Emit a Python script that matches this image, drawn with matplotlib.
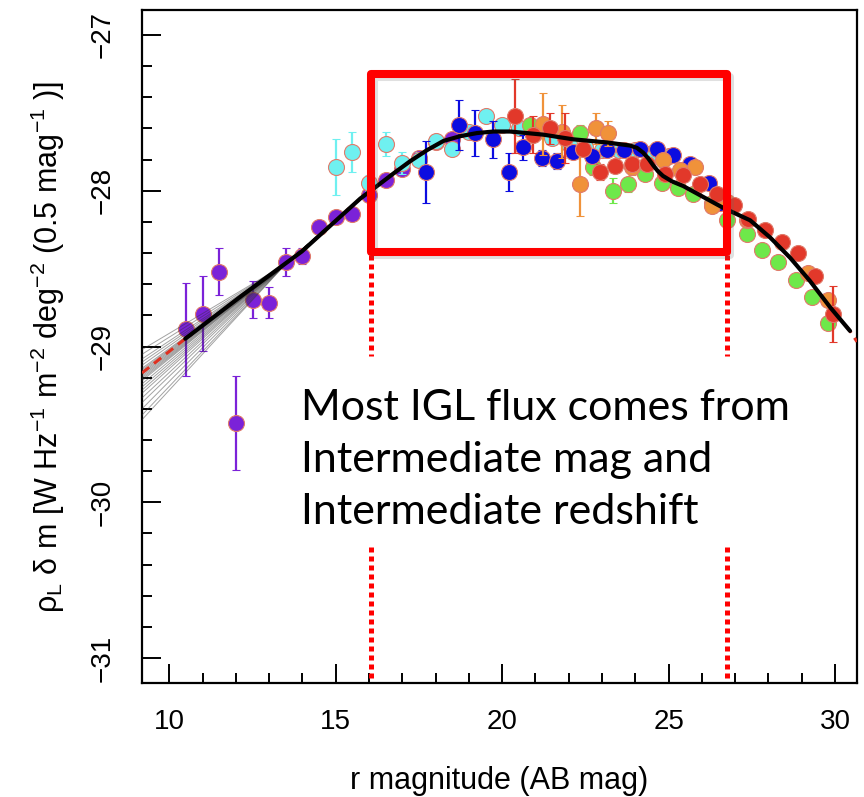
import matplotlib
matplotlib.use('Agg')
import matplotlib.pyplot as plt
import matplotlib.patheffects as pe
from matplotlib.patches import Rectangle
from matplotlib.ticker import MultipleLocator

plt.rcParams['font.family'] = ['Liberation Sans', 'DejaVu Sans']
plt.rcParams['mathtext.fontset'] = 'custom'
plt.rcParams['mathtext.rm'] = 'Liberation Sans'
plt.rcParams['mathtext.it'] = 'Liberation Sans:italic'

# --- binned luminosity density, one list per sample ---
purple_mag = [10.5, 11.0, 11.5, 12.0, 12.5, 13.0, 13.5, 14.0, 14.5, 15.0, 15.5, 16.0, 16.5, 17.0, 17.5, 18.0, 18.5]
purple_rho = [-28.89, -28.79, -28.52, -29.49, -28.70, -28.72, -28.46, -28.42, -28.23, -28.17, -28.15, -28.03, -27.93, -27.86, -27.79, -27.69, -27.67]
purple_err = [0.30, 0.24, 0.15, 0.30, 0.12, 0.10, 0.09, 0.05, 0.03, 0.03, 0.03, 0.03, 0.03, 0.03, 0.03, 0.03, 0.03]

cyan_mag = [15.0, 15.5, 16.0, 16.5, 17.0, 17.5, 18.0, 18.5, 19.0, 19.5, 20.0, 20.5, 21.0, 21.5, 22.0, 22.5, 23.0, 23.5, 24.0, 24.5, 25.0]
cyan_rho = [-27.85, -27.75, -27.95, -27.70, -27.82, -27.80, -27.68, -27.73, -27.62, -27.52, -27.58, -27.60, -27.63, -27.66, -27.70, -27.72, -27.74, -27.74, -27.74, -27.76, -27.78]
cyan_err = [0.18, 0.13, 0.05, 0.08, 0.07, 0.05, 0.04, 0.04, 0.04, 0.04, 0.04, 0.04, 0.04, 0.04, 0.03, 0.03, 0.03, 0.03, 0.03, 0.03, 0.03]

blue_mag = [17.71, 18.71, 19.19, 19.71, 20.21, 20.64, 21.19, 21.64, 22.14, 22.69, 23.14, 23.65, 24.14, 24.65, 25.14, 25.65, 26.20, 26.55]
blue_rho = [-27.88, -27.58, -27.63, -27.67, -27.88, -27.72, -27.79, -27.81, -27.75, -27.78, -27.74, -27.74, -27.73, -27.73, -27.77, -27.83, -27.95, -28.08]
blue_err = [0.20, 0.16, 0.15, 0.12, 0.12, 0.08, 0.05, 0.05, 0.04, 0.04, 0.03, 0.03, 0.03, 0.03, 0.03, 0.03, 0.03, 0.03]

green_mag = [20.84, 22.34, 22.74, 23.34, 23.79, 24.29, 24.79, 25.29, 25.74, 26.30, 26.75, 27.35, 27.80, 28.30, 28.83, 29.30, 29.80]
green_rho = [-27.58, -27.63, -27.85, -28.00, -27.96, -27.89, -27.95, -27.98, -28.02, -28.08, -28.19, -28.28, -28.38, -28.46, -28.57, -28.68, -28.85]
green_err = [0.04, 0.05, 0.05, 0.08, 0.05, 0.04, 0.03, 0.03, 0.03, 0.03, 0.03, 0.03, 0.03, 0.03, 0.03, 0.03, 0.03]

orange_mag = [21.23, 21.79, 22.34, 22.82, 23.19, 23.89, 24.83, 25.35, 25.80, 26.30, 26.75, 27.35, 29.20, 29.80]
orange_rho = [-27.57, -27.62, -27.96, -27.60, -27.63, -27.85, -27.80, -27.87, -27.85, -28.10, -28.07, -28.19, -28.53, -28.70]
orange_err = [0.20, 0.17, 0.20, 0.10, 0.08, 0.05, 0.04, 0.03, 0.03, 0.03, 0.03, 0.03, 0.03, 0.04]

red_mag = [20.39, 20.93, 21.44, 21.89, 22.44, 22.94, 23.38, 23.89, 24.34, 24.89, 25.44, 25.94, 26.45, 26.95, 27.40, 27.90, 28.40, 28.90, 29.40, 29.95]
red_rho = [-27.52, -27.64, -27.60, -27.66, -27.73, -27.88, -27.84, -27.83, -27.83, -27.89, -27.90, -27.96, -28.02, -28.09, -28.18, -28.25, -28.33, -28.40, -28.55, -28.79]
red_err = [0.24, 0.12, 0.10, 0.16, 0.05, 0.05, 0.04, 0.04, 0.03, 0.03, 0.03, 0.03, 0.03, 0.03, 0.03, 0.03, 0.03, 0.03, 0.03, 0.18]

# best-fit model curve
model_mag = [9.18, 10.48, 12.20, 13.98, 15.74, 16.24, 16.73, 17.24, 17.74, 18.24, 18.74, 19.24, 19.74, 20.24,
             20.74, 21.23, 22.13, 23.14, 23.84, 24.05, 24.23, 24.38, 24.53, 24.68, 24.83, 25.10, 25.44, 26.04,
             26.64, 27.45, 28.05, 28.65, 29.25, 29.86, 30.45, 30.66]
model_rho = [-29.17, -28.95, -28.67, -28.39, -28.05, -27.97, -27.89, -27.81, -27.74, -27.68, -27.65, -27.63, -27.62, -27.62,
             -27.63, -27.64, -27.67, -27.69, -27.71, -27.725, -27.755, -27.79, -27.835, -27.875, -27.905, -27.94, -27.97, -28.04,
             -28.11, -28.19, -28.30, -28.43, -28.58, -28.75, -28.90, -28.97]

# faint-end extrapolations of the model realisations
fan_left_mag = 9.18
fan_left_rho = [-29.02, -29.05, -29.08, -29.10, -29.12, -29.14, -29.15, -29.16, -29.17, -29.18, -29.19, -29.20,
                -29.21, -29.22, -29.24, -29.26, -29.28, -29.30, -29.33, -29.36, -29.40, -29.44, -29.47]
fan_pivot = (13.5, -28.47)

# highlighted magnitude range
box_mag = (16.07, 26.76)
box_rho = (-27.254, -28.393)

series = [
    (purple_mag, purple_rho, purple_err, '#7b22d8', 3),
    (cyan_mag, cyan_rho, cyan_err, '#6ff0f0', 4),
    (green_mag, green_rho, green_err, '#6ee84a', 5),
    (blue_mag, blue_rho, blue_err, '#0c0ce0', 6),
    (orange_mag, orange_rho, orange_err, '#f0923a', 7),
    (red_mag, red_rho, red_err, '#e2382a', 8),
]

fig = plt.figure(figsize=(8.64, 7.97), dpi=100)
ax = fig.add_axes([142 / 864, 1 - 683 / 797, 715 / 864, 673 / 797])

for mag, rho, err, col, z in series:
    ax.errorbar(mag, rho, yerr=err, fmt='o', ms=11.5, mfc=col, mec='#e07a6a', mew=0.8,
                ecolor=col, elinewidth=1.6, capsize=3, capthick=1.6, zorder=z)

for y0 in fan_left_rho:
    ax.plot([fan_left_mag, fan_pivot[0], model_mag[4]], [y0, fan_pivot[1], model_rho[4]],
            color='0.2', lw=0.7, alpha=0.45, zorder=9)

ax.plot(model_mag, model_rho, color='#e03020', lw=2.2, ls=(0, (3, 2)), zorder=10)
ax.plot(model_mag[1:-1], model_rho[1:-1], color='black', lw=3.0, zorder=11,
        solid_capstyle='round', solid_joinstyle='round')

ax.set_xlim(9.18, 30.66)
ax.set_ylim(-31.16, -26.84)
ax.xaxis.set_major_locator(MultipleLocator(5))
ax.xaxis.set_minor_locator(MultipleLocator(1))
ax.yaxis.set_major_locator(MultipleLocator(1))
ax.yaxis.set_minor_locator(MultipleLocator(0.2))
ax.tick_params(which='both', direction='in', width=1.4, labelsize=20, pad=19)
ax.tick_params(which='major', length=13.5)
ax.tick_params(which='minor', length=7)
ax.tick_params(axis='y', labelrotation=90)
for lab in ax.get_yticklabels():
    lab.set_va('center')
for s in ax.spines.values():
    s.set_linewidth(1.6)

ax.set_xlabel('r magnitude (AB mag)', fontsize=22, labelpad=22)
ax.set_ylabel('ρ$_\\mathrm{L}$ δ m [W Hz$^{-1}$ m$^{-2}$ deg$^{-2}$ (0.5 mag$^{-1}$ )]', fontsize=22, labelpad=16)

# red highlight box and dotted guide lines
rect = Rectangle((box_mag[0], box_rho[1]), box_mag[1] - box_mag[0], box_rho[0] - box_rho[1],
                 fill=False, ec='#ff0000', lw=5.8, joinstyle='round', zorder=20, clip_on=False,
                 path_effects=[pe.SimpleLineShadow(offset=(2, -2), shadow_color='0.4', alpha=0.2), pe.Normal()])
ax.add_patch(rect)
for xm in box_mag:
    ax.plot([xm, xm], [box_rho[1] - 0.02, -29.06], color='#ff0000', lw=3.6, ls=(0, (1, 0.8)),
            dash_capstyle='butt', zorder=19)
    ax.plot([xm, xm], [-30.29, -31.14], color='#ff0000', lw=3.6, ls=(0, (1, 0.8)),
            dash_capstyle='butt', zorder=19)

ax.text(13.95, -29.73, 'Most IGL flux comes from\nIntermediate mag and\nIntermediate redshift',
        family=['Lato', 'DejaVu Sans'], fontsize=31, linespacing=1.45, va='center', ha='left', zorder=25)

fig.savefig('out.png', dpi=100)
